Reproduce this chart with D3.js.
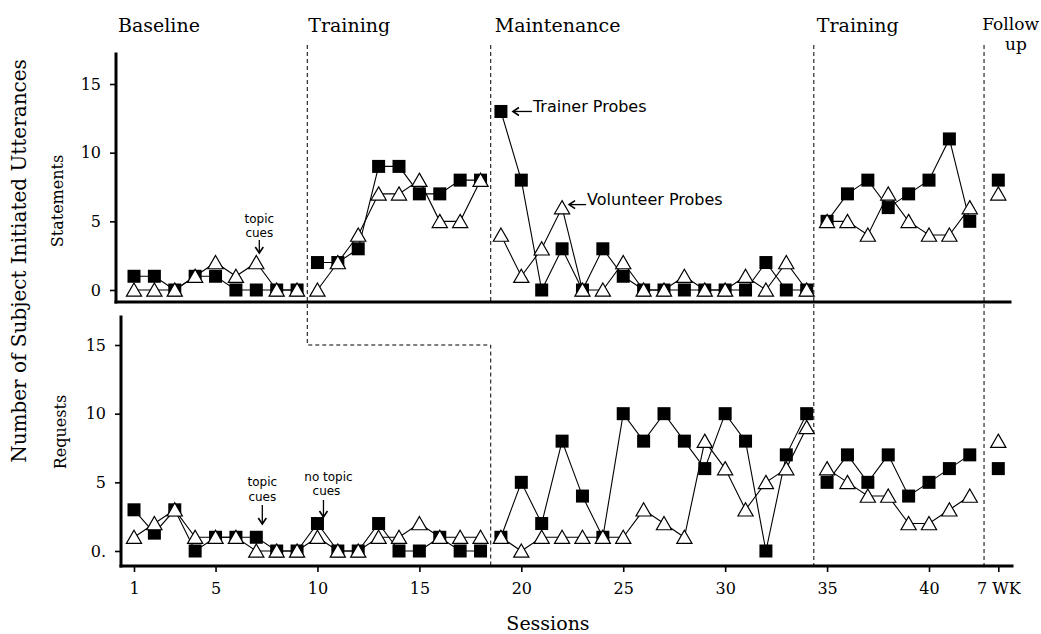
<!DOCTYPE html>
<html>
<head>
<meta charset="utf-8">
<script src="https://cdn.jsdelivr.net/npm/d3@7"></script>
<style>
  html, body { margin: 0; padding: 0; background: #fff; }
  svg { display: block; }
</style>
</head>
<body>
<svg id="chart" width="1041" height="634"></svg>
<script>
// ---------------- DATA ----------------
const sessions = [1,2,3,4,5,6,7,8,9,10,11,12,13,14,15,16,17,18,19,20,21,22,23,24,25,26,27,28,29,30,31,32,33,34,35,36,37,38,39,40,41,42,"7 WK"];

const statementsTrainer   = [1,1,0,1,1,0,0,0,0, 2,2,3,9,9,7,7,8,8, 13,8,0,3,0,3,1,0,0,0,0,0,0,2,0,0, 5,7,8,6,7,8,11,5, 8];
const statementsVolunteer = [0,0,0,1,2,1,2,0,0, 0,2,4,7,7,8,5,5,8, 4,1,3,6,0,0,2,0,0,1,0,0,1,0,2,0, 5,5,4,7,5,4,4,6, 7];

const requestsTrainer   = [3,1.3,3,0,1,1,1,0,0, 2,0,0,2,0,0,1,0,0, 1,5,2,8,4,1,10,8,10,8,6,10,8,0,7,10, 5,7,5,7,4,5,6,7, 6];
const requestsVolunteer = [1,2,3,1,1,1,0,0,0, 1,0,0,1,1,2,1,1,1, 1,0,1,1,1,1,1,3,2,1,8,6,3,5,6,9, 6,5,4,4,2,2,3,4, 8];

const xTickLabels = ["1","5","10","15","20","25","30","35","40","7 WK"];
const yTickValues = [0,5,10,15];
const phaseNames = ["Baseline","Training","Maintenance","Training","Follow"];
const phaseNames2 = ["up"];

// phase boundaries (in session units)
const statementBreaks = [9.5, 18.5, 34.35, 42.7];
const requestBreaks = [18.5, 34.35, 42.7];
const FOLLOW_POS = 43.4;

// ---------------- LAYOUT ----------------
const svg = d3.select("#chart");
const x = d3.scaleLinear().domain([1, 40]).range([134, 929]);
const yTop = d3.scaleLinear().domain([0, 15]).range([290, 84]);
const yBot = d3.scaleLinear().domain([0, 15]).range([551, 345]);
const pos = s => (s === "7 WK" ? FOLLOW_POS : s);

const serif = "DejaVu Serif";
const sans = "DejaVu Sans";

// ---------------- PHASE LINES ----------------
const dash = "4,3";
const phaseG = svg.append("g").attr("stroke", "#000").attr("stroke-width", 1).attr("stroke-dasharray", dash).attr("fill", "none");
phaseG.append("path").attr("d",
  `M${x(statementBreaks[0])},45 L${x(statementBreaks[0])},${yBot(15)} L${x(requestBreaks[0])},${yBot(15)} L${x(requestBreaks[0])},566`);
phaseG.append("line").attr("x1", x(statementBreaks[1])).attr("x2", x(statementBreaks[1])).attr("y1", 45).attr("y2", 302);
[statementBreaks[2], statementBreaks[3]].forEach(b => {
  phaseG.append("line").attr("x1", x(b)).attr("x2", x(b)).attr("y1", 45).attr("y2", 568);
});

// ---------------- AXES ----------------
const axG = svg.append("g").attr("stroke", "#000").attr("stroke-width", 3).attr("stroke-linecap", "square");
axG.append("line").attr("x1", 116).attr("x2", 116).attr("y1", 54).attr("y2", 302);
axG.append("line").attr("x1", 116).attr("x2", 1010).attr("y1", 302).attr("y2", 302);
axG.append("line").attr("x1", 121).attr("x2", 121).attr("y1", 317).attr("y2", 566);
axG.append("line").attr("x1", 121).attr("x2", 1012).attr("y1", 566).attr("y2", 566);

function styleAxis(g, size) {
  g.select(".domain").remove();
  g.selectAll(".tick line").attr("stroke", "#000").attr("stroke-width", 1.6);
  g.selectAll(".tick text").attr("font-family", serif).attr("font-size", size).attr("fill", "#000");
}

svg.append("g").attr("transform", "translate(116,0)")
  .call(d3.axisLeft(yTop).tickValues(yTickValues).tickSize(6).tickPadding(9).tickFormat(d => String(d)))
  .call(g => styleAxis(g, 16));

svg.append("g").attr("transform", "translate(121,0)")
  .call(d3.axisLeft(yBot).tickValues(yTickValues).tickSize(6).tickPadding(9).tickFormat(d => d === 0 ? "0." : String(d)))
  .call(g => styleAxis(g, 16));

const xTickPos = xTickLabels.map(l => pos(l === "7 WK" ? l : +l));
const xAxis = d3.axisBottom(x).tickValues(xTickPos).tickSize(6).tickPadding(11)
  .tickFormat((d, i) => xTickLabels[i]);
svg.append("g").attr("transform", "translate(0,566)").call(xAxis).call(g => styleAxis(g, 16));

// ---------------- TITLES ----------------
const txt = (t, xx, yy, size, fam, anchor) => svg.append("text").text(t).attr("x", xx).attr("y", yy)
  .attr("font-family", fam).attr("font-size", size).attr("text-anchor", anchor || "start").attr("fill", "#000");

const headerX = [118, x(statementBreaks[0]) + 1, x(statementBreaks[1]) + 4, x(statementBreaks[2]) + 3];
phaseNames.slice(0, 4).forEach((n, i) => txt(n, headerX[i], 32, 19, serif));
txt(phaseNames[4], 1039, 30, 17, serif, "end");
txt(phaseNames2[0], 1016, 50, 17, serif, "middle");

txt("Sessions", 548, 630, 19, serif, "middle");

svg.append("text").text("Number of Subject Initiated Utterances")
  .attr("transform", "translate(26,261) rotate(-90)").attr("text-anchor", "middle")
  .attr("font-family", serif).attr("font-size", 20).attr("fill", "#000");
svg.append("text").text("Statements")
  .attr("transform", "translate(63,201) rotate(-90)").attr("text-anchor", "middle")
  .attr("font-family", serif).attr("font-size", 16).attr("fill", "#000");
svg.append("text").text("Requests")
  .attr("transform", "translate(66,432) rotate(-90)").attr("text-anchor", "middle")
  .attr("font-family", serif).attr("font-size", 16).attr("fill", "#000");

// ---------------- SERIES ----------------
function segments(values, breaks) {
  const segs = [];
  let cur = [];
  let bi = 0;
  values.forEach((v, i) => {
    const p = pos(sessions[i]);
    while (bi < breaks.length && p > breaks[bi]) {
      if (cur.length) segs.push(cur);
      cur = [];
      bi++;
    }
    cur.push([p, v]);
  });
  if (cur.length) segs.push(cur);
  return segs;
}

function drawPanel(trainer, volunteer, y, breaks) {
  const g = svg.append("g");
  const line = d3.line().x(d => x(d[0])).y(d => y(d[1]));
  [trainer, volunteer].forEach(series => {
    segments(series, breaks).forEach(seg => {
      if (seg.length > 1)
        g.append("path").attr("d", line(seg)).attr("fill", "none").attr("stroke", "#000").attr("stroke-width", 1.1);
    });
  });
  g.selectAll("rect.sq").data(trainer).join("rect").attr("class", "sq")
    .attr("x", (d, i) => x(pos(sessions[i])) - 6.5).attr("y", d => y(d) - 6.5)
    .attr("width", 13).attr("height", 13).attr("fill", "#000");
  g.selectAll("path.tri").data(volunteer).join("path").attr("class", "tri")
    .attr("d", "M0,-7 L7.6,6.2 L-7.6,6.2 Z")
    .attr("transform", (d, i) => `translate(${x(pos(sessions[i]))},${y(d)})`)
    .attr("fill", "#fff").attr("stroke", "#000").attr("stroke-width", 1.2);
}

drawPanel(statementsTrainer, statementsVolunteer, yTop, statementBreaks);
drawPanel(requestsTrainer, requestsVolunteer, yBot, requestBreaks);

// ---------------- ANNOTATIONS ----------------
function arrowDown(ax, y1, y2) {
  svg.append("line").attr("x1", ax).attr("x2", ax).attr("y1", y1).attr("y2", y2).attr("stroke", "#000").attr("stroke-width", 1.3);
  svg.append("path").attr("d", `M${ax - 4},${y2 - 6} L${ax},${y2} L${ax + 4},${y2 - 6}`)
    .attr("fill", "none").attr("stroke", "#000").attr("stroke-width", 1.6);
}
function arrowLeft(x1, x2, ay) {
  svg.append("line").attr("x1", x1).attr("x2", x2).attr("y1", ay).attr("y2", ay).attr("stroke", "#000").attr("stroke-width", 1.3);
  svg.append("path").attr("d", `M${x2 + 6},${ay - 4} L${x2},${ay} L${x2 + 6},${ay + 4}`)
    .attr("fill", "none").attr("stroke", "#000").attr("stroke-width", 1.6);
}

const tpX = x(19), tpY = yTop(statementsTrainer[18]);
arrowLeft(tpX + 31, tpX + 12, tpY);
txt("Trainer Probes", tpX + 32, tpY + 1, 16, sans);
const vpX = x(22), vpY = yTop(statementsVolunteer[21]);
arrowLeft(vpX + 24, vpX + 7, vpY - 3);
txt("Volunteer Probes", vpX + 25, vpY - 3, 16, sans);

const tc1 = x(7) + 3;
txt("topic", tc1, 223, 12, sans, "middle");
txt("cues", tc1, 237, 12, sans, "middle");
arrowDown(tc1, 240, 253);

const tc2 = x(7) + 6;
txt("topic", tc2, 486, 12, sans, "middle");
txt("cues", tc2, 501, 12, sans, "middle");
arrowDown(tc2, 505, 524);

const tc3 = x(10) + 11;
txt("no topic", tc3, 481, 12, sans, "middle");
txt("cues", tc3 - 2, 495, 12, sans, "middle");
arrowDown(x(10) + 6, 500, 517);
</script>
</body>
</html>
